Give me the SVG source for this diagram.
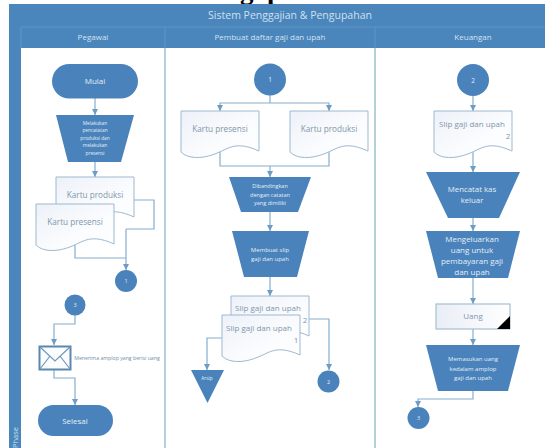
<svg xmlns="http://www.w3.org/2000/svg" width="545" height="448" viewBox="0 0 545 448">
<style>
text{font-family:"Open Sans","Noto Sans","Liberation Sans",sans-serif;text-anchor:middle}
.head{fill:#d3e3f1;font-size:8px}
.w{fill:#e4eef7}
.d{fill:#7f97ab;font-size:8.200px}
.s{fill:#7f97ab;font-size:8px}
.shape{fill:#4a83bb}
.doc{fill:url(#g);stroke:#9db9cf;stroke-width:1}
.c{fill:none;stroke:#86aecd;stroke-width:1.2}
.a{marker-end:url(#ar)}
.div{stroke:#9cc0cd;stroke-width:1.5}
</style>
<defs>
<linearGradient id="g" x1="0" y1="0" x2="1" y2="1"><stop offset="0" stop-color="#edf1f8"/><stop offset="0.6" stop-color="#fbfcfe"/><stop offset="1" stop-color="#ffffff"/></linearGradient>
<linearGradient id="g2" x1="0" y1="0" x2="1" y2="0"><stop offset="0" stop-color="#e9edf6"/><stop offset="1" stop-color="#ffffff"/></linearGradient>
<marker id="ar" markerUnits="userSpaceOnUse" markerWidth="7" markerHeight="6" refX="6" refY="3" orient="auto"><path d="M0,0L6,3L0,6Z" fill="#6d9cc4"/></marker>
<path id="docp" d="M0,0H78V40C65,34 55,33 45,38C33,44 22,48 10,46C5,45 2,43 0,41Z"/>
</defs>
<rect width="545" height="448" fill="#ffffff"/>
<text y="-1" style="font-family:'Liberation Serif',serif;font-weight:bold;font-size:27px;fill:#000;text-anchor:start"><tspan x="240">g</tspan><tspan x="267">p</tspan></text>
<g id="swimlane">
<rect x="9" y="4" width="536" height="444" fill="#4a85bc"/>
<rect x="21" y="48" width="524" height="400" fill="#ffffff"/>
<line x1="21" y1="27" x2="545" y2="27" stroke="#5f95c4" stroke-width="1"/>
<line x1="21" y1="27" x2="21" y2="48" stroke="#5f95c4" stroke-width="1"/>
<line x1="165" y1="27" x2="165" y2="48" stroke="#5f95c4" stroke-width="1"/>
<line x1="375" y1="27" x2="375" y2="48" stroke="#5f95c4" stroke-width="1"/>
<line class="div" x1="165" y1="48" x2="165" y2="448"/>
<line class="div" x1="375" y1="48" x2="375" y2="448"/>
<text x="290" y="19" style="fill:#cfe0ef;font-size:10.500px">Sistem Penggajian &amp; Pengupahan</text>
<text class="head" x="93" y="40">Pegawai</text>
<text class="head" x="270" y="40">Pembuat daftar gaji dan upah</text>
<text class="head" x="473" y="40">Keuangan</text>
<text transform="translate(18,448) rotate(-90)" style="fill:#cfe0ef;font-size:7.500px;text-anchor:start">Phase</text>
</g>
<g id="connectors">
<path class="c a" d="M95,98V115"/>
<path class="c a" d="M95,162V177"/>
<path class="c" d="M133,200H154V229H126"/>
<path class="c" d="M75,245V258H126"/>
<path class="c a" d="M126,229V270"/>
<path class="c a" d="M75,315V324H54V345"/>
<path class="c a" d="M54,370V378H75V405"/>
<path class="c" d="M270,95V103"/>
<path class="c a" d="M270,103H220V111"/>
<path class="c a" d="M270,103H329V111"/>
<path class="c" d="M220,150V166H329V150"/>
<path class="c a" d="M270,166V177"/>
<path class="c a" d="M270,212V231"/>
<path class="c a" d="M270,277V296"/>
<path class="c a" d="M222,338H207V370"/>
<path class="c a" d="M309,319H329V370"/>
<path class="c a" d="M473,96V111"/>
<path class="c a" d="M473,152V172"/>
<path class="c a" d="M473,218V231"/>
<path class="c a" d="M473,278V304"/>
<path class="c a" d="M473,329V345"/>
<path class="c a" d="M473,391V399H418V407"/>
</g>
<g id="mulai"><rect class="shape" x="52" y="64" width="86" height="34.500" rx="17.250"/><text class="w" x="95" y="84" font-size="8">Mulai</text></g>
<g id="catat"><path class="shape" d="M56,115H134L121,162H68Z"/>
<text class="w" font-size="4.800" x="95" y="124.500">Melakukan</text><text class="w" font-size="4.800" x="95" y="132">pencatatan</text><text class="w" font-size="4.800" x="95" y="139.500">produksi dan</text><text class="w" font-size="4.800" x="95" y="147">melakukan</text><text class="w" font-size="4.800" x="95" y="154.500">presensi</text></g>
<g id="doc-produksi-a"><use href="#docp" class="doc" x="56" y="177"/><text class="d" x="95" y="198">Kartu produksi</text></g>
<g id="doc-presensi-a"><use href="#docp" class="doc" x="36" y="204"/><text class="d" x="75" y="225">Kartu presensi</text></g>
<g id="conn1a"><circle class="shape" cx="126" cy="281" r="11"/><text class="w" x="126" y="283" font-size="5.500">1</text></g>
<g id="conn3a"><circle class="shape" cx="75" cy="305" r="10.500"/><text class="w" x="75" y="307" font-size="5.500">3</text></g>
<g id="amplop"><rect x="39.500" y="346.500" width="31" height="23" fill="#fbfcfe" stroke="#5b88ad" stroke-width="2"/><path d="M40,347L55,361L70,347M40,369L50,356M70,369L60,356" fill="none" stroke="#6f97b8" stroke-width="1.200"/><text x="117" y="359.500" style="fill:#6f8ea8;font-size:5.200px">Menerima amplop yang berisi uang</text></g>
<g id="selesai"><rect class="shape" x="38" y="405" width="75" height="31" rx="15.500"/><text class="w" x="75" y="424" font-size="8">Selesai</text></g>
<g id="conn1b"><circle class="shape" cx="270" cy="79.500" r="16"/><text class="w" x="270" y="82" font-size="6.500">1</text></g>
<g id="doc-presensi-b"><use href="#docp" class="doc" x="181" y="111"/><text class="d" x="220" y="132">Kartu presensi</text></g>
<g id="doc-produksi-b"><use href="#docp" class="doc" x="290" y="111"/><text class="d" x="329" y="132">Kartu produksi</text></g>
<g id="banding"><path class="shape" d="M229,177H311L298,212H241Z"/>
<text class="w" font-size="5.500" x="270" y="188">Dibandingkan</text><text class="w" font-size="5.500" x="270" y="196.500">dengan catatan</text><text class="w" font-size="5.500" x="270" y="205">yang dimiliki</text></g>
<g id="slip"><path class="shape" d="M232,231H309L297,277H244Z"/>
<text class="w" font-size="6" x="270" y="252">Membuat slip</text><text class="w" font-size="6" x="270" y="261">gaji dan upah</text></g>
<g id="doc-slip-2"><use href="#docp" class="doc" x="231" y="296"/><text class="s" x="268" y="311">Slip gaji dan upah</text><text class="s" x="305" y="323">2</text></g>
<g id="doc-slip-1"><use href="#docp" class="doc" x="222" y="315"/><text class="s" x="259" y="330.500">Slip gaji dan upah</text><text class="s" x="296" y="343">1</text></g>
<g id="arsip"><path class="shape" d="M191,370H224L207.500,403Z"/><text class="w" x="207" y="380" font-size="4.800">Arsip</text></g>
<g id="conn2b"><circle class="shape" cx="328.500" cy="381.500" r="11"/><text class="w" x="328.500" y="384" font-size="5.500">2</text></g>
<g id="conn2c"><circle class="shape" cx="473" cy="80" r="16"/><text class="w" x="473" y="82.500" font-size="6.500">2</text></g>
<g id="doc-slip-k"><use href="#docp" class="doc" x="434" y="111"/><text class="s" x="472" y="126.500">Slip gaji dan upah</text><text class="s" x="508" y="139">2</text></g>
<g id="kas"><path class="shape" d="M426,172H520L499,218H448Z"/>
<text class="w" font-size="7.800" x="472" y="192">Mencatat kas</text><text class="w" font-size="7.800" x="472" y="203">keluar</text></g>
<g id="keluar"><path class="shape" d="M426,231H520L508,278H438Z"/>
<text class="w" font-size="8" x="472" y="242">Mengeluarkan</text><text class="w" font-size="8" x="472" y="253">uang untuk</text><text class="w" font-size="8" x="472" y="264">pembayaran gaji</text><text class="w" font-size="8" x="472" y="275">dan upah</text></g>
<g id="uang"><rect x="436" y="304" width="74" height="25" fill="url(#g2)" stroke="#a6c0d3" stroke-width="1.200"/><path d="M497,329L510,316V329Z" fill="#000"/><text class="s" x="473" y="319">Uang</text></g>
<g id="masuk"><path class="shape" d="M426,345H520L508,391H438Z"/>
<text class="w" font-size="6" x="473" y="361">Memasukan uang</text><text class="w" font-size="6" x="473" y="370.500">kedalam amplop</text><text class="w" font-size="6" x="473" y="380">gaji dan upah</text></g>
<g id="conn3c"><circle class="shape" cx="418.500" cy="418" r="11"/><text class="w" x="418.500" y="420" font-size="5.500">3</text></g>
</svg>
